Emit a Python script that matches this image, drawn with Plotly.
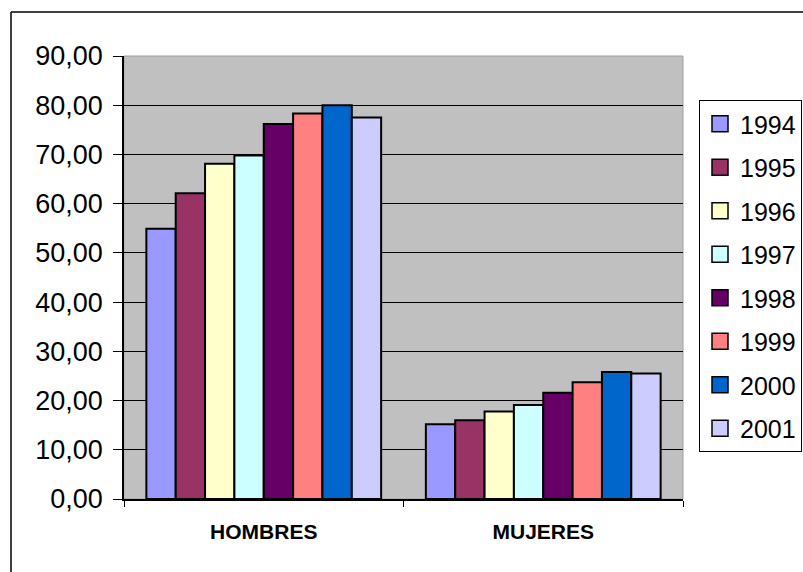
import plotly.graph_objects as go

categories = ["HOMBRES", "MUJERES"]
years = ["1994", "1995", "1996", "1997", "1998", "1999", "2000", "2001"]
hombres = [54.9, 62.1, 68.1, 69.8, 76.2, 78.3, 80.0, 77.5]
mujeres = [15.2, 16.0, 17.8, 19.1, 21.6, 23.7, 25.8, 25.5]
colors = ["#9999FF", "#993366", "#FFFFCC", "#CCFFFF", "#660066", "#FF8080", "#0066CC", "#CCCCFF"]
y_ticks = [0, 10, 20, 30, 40, 50, 60, 70, 80, 90]

W, H = 803, 572
L, R, T, B = 124, 683, 56, 499

fig = go.Figure()
for i, yr in enumerate(years):
    fig.add_trace(go.Bar(
        x=categories, y=[hombres[i], mujeres[i]], name=yr, legendgroup=yr,
        showlegend=False,
        marker=dict(color=colors[i], line=dict(color="black", width=2)),
    ))
    # legend entry with a larger square swatch
    fig.add_trace(go.Scatter(
        x=[None], y=[None], mode="markers", name=yr, legendgroup=yr,
        marker=dict(symbol="square", size=16, color=colors[i], line=dict(color="black", width=1.5)),
    ))

def px_x(v):
    return (v - L) / (R - L)

def px_y(v):
    return (B - v) / (B - T)

shapes = [
    dict(type="line", xref="paper", yref="paper", x0=px_x(11), x1=px_x(11), y0=px_y(12), y1=px_y(600),
         line=dict(color="black", width=1.5)),
    dict(type="line", xref="paper", yref="paper", x0=px_x(11), x1=px_x(820), y0=px_y(12), y1=px_y(12),
         line=dict(color="black", width=1.5)),
    dict(type="rect", xref="paper", yref="paper", x0=0, x1=1, y0=0, y1=1,
         line=dict(color="#A0A0A0", width=1), layer="below"),
]

fig.update_layout(
    width=W, height=H,
    margin=dict(l=L, r=W - R, t=T, b=H - B, pad=0, autoexpand=False),
    paper_bgcolor="white", plot_bgcolor="#C0C0C0",
    barmode="group", bargap=0.16, bargroupgap=0,
    separators=",.",
    font=dict(family="Liberation Sans, Arial, sans-serif", color="black"),
    showlegend=True,
    legend=dict(
        x=px_x(699), xanchor="left", y=px_y(100), yanchor="top",
        bgcolor="white", bordercolor="black", borderwidth=1,
        font=dict(size=25, color="black"),
        traceorder="grouped", tracegroupgap=8,
        entrywidth=110,
    ),
    shapes=shapes,
)
fig.update_yaxes(
    range=[0, 90], tickvals=y_ticks, tickformat=".2f",
    showgrid=True, gridcolor="black", gridwidth=1,
    showline=True, linecolor="black", linewidth=1.5,
    ticks="outside", ticklen=9, tickcolor="black", tickwidth=1,
    tickfont=dict(size=27), zeroline=False, ticklabelstandoff=5,
)
fig.update_xaxes(
    showline=True, linecolor="black", linewidth=1.5,
    ticks="outside", ticklen=6, tickcolor="black", tickson="boundaries",
    tickfont=dict(size=21, family="Liberation Sans, Arial, sans-serif", weight="bold"),
    ticklabelstandoff=13,
)

fig.write_html("out.html")
